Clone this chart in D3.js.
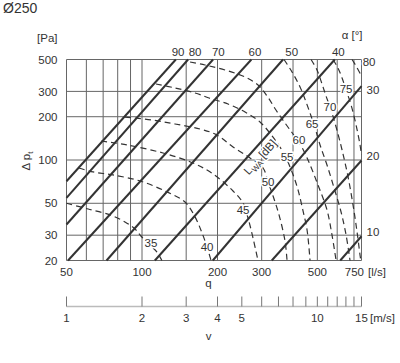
<!DOCTYPE html>
<html><head><meta charset="utf-8">
<script src="https://cdn.jsdelivr.net/npm/d3@7/dist/d3.min.js"></script>
<style>
body{margin:0;background:#fff}
text{font-family:"Liberation Sans",Arial,Helvetica,sans-serif;fill:#333}
</style>
</head><body>
<svg id="c" width="400" height="363"></svg>
<script>
// ---- data ----
const qGrid=[50,60,70,80,90,100,150,200,300,400,500,600,700,750];
const pGrid=[20,30,50,100,200,300,500];
const qTicks=[50,100,200,300,500,750];
const pTicks=[500,300,200,100,50,30,20];
const vTicks=[1,2,3,4,5,6,7,8,9,10,11,12,13,14,15];
const vLabels=[1,2,3,4,5,10,15];
const angles=[90,80,70,60,50,40,30,20,10];
const angleStart=[[136.4,500],[152.7,500],[192,500],[273,500],[365,500],[587,500],[750,326],[750,99.2],[750,29.5]];
const angleEnd=[[50,71.2],[50,54.5],[50,35.6],[50.7,20],[72.2,20],[112.5,20],[191.5,20],[329,20],[617,20]];
const angleLabelTopQ=[139.2,162.7,201.5,282,395,606];
const angleLabelRightP=[306.8,107.5,31.7];
const dbLevels=[35,40,45,50,55,60,65,70,75,80];
const db35=[[50,50],[61,45.6],[74.6,41.5],[85.5,37.1],[93.8,33.1],[99,29.6],[107.6,25.6],[114.7,22.9],[120,20]];
const db40=[[56,88],[63.8,82.6],[76.6,78.7],[98.2,71.5],[125.8,60],[148.4,51],[162.7,40.2],[173.5,31.1],[181.7,24.8],[188.5,20]];
const db45=[[68.7,135.6],[87.2,127.2],[121.3,111.9],[159.8,95.3],[191.9,80],[230.6,60.9],[252.8,50.2],[264.6,39.5],[277,28.7],[290,20]];
const db50=[[85.5,199],[109.6,189.8],[135.4,178],[170.3,164.3],[199,149.3],[230.6,123.2],[269.6,103.3],[303.8,88],[318,70.3],[333,56.2],[351.8,41.5],[371.7,27.3],[378.6,20]];
const db55=[[113.7,337.8],[135.4,316.9],[162.7,292.4],[185,269.9],[220.3,245],[257.5,215.6],[295.4,183.8],[330,146.9],[364.9,113.7],[396.4,82.6],[418.8,61.9],[438.5,44.2],[455,32.6],[467.6,20]];
const db60=[[155.4,480.4],[178.3,457.9],[214.3,422.6],[257.5,377.7],[290.1,332.4],[315.2,278.7],[342,222.7],[371.7,180.8],[400,151.6],[422.6,133.4],[459,100],[503,67],[546.5,44.9],[572,30.1],[594,20]];
const db65=[[368.3,500],[396.4,409.3],[426.6,322],[450.8,253],[472,202.3],[489.6,167],[512.6,127.2],[546.5,92.3],[583,63.9],[621.7,43.5],[651,30.1],[675,20]];
const db70=[[472,500],[498.6,422.6],[522,337.8],[541.5,278.7],[567,222.7],[594,169.7],[627.5,117.4],[663,76.2],[694,48.6],[720,31.6],[740,21.8],[745,20]];
const db75=[[577.5,500],[604.5,436],[627.5,371.8],[651,306.8],[681.6,241.4],[713.6,175.2],[740,127.2],[750,108.4]];
const db80=[[687.6,500],[713.6,450.6],[750,383.9]];
const dbCurves=[db35,db40,db45,db50,db55,db60,db65,db70,db75,db80];
const dbLabelPos=[[108.6,26.5],[181.7,24.8],[252.8,44.9],[318,70.3],[378.6,105],[422.6,137.7],[476.3,178],[561.6,233.8],[651,311.7],[803.7,480]];
const lwaPos=[295.4,105];

// ---- scales ----
const svg=d3.select("#c");
const x=d3.scaleLog().domain([50,750]).range([66.5,361.5]);
const y=d3.scaleLog().domain([20,500]).range([260.5,59.5]);
const v=d3.scaleLog().domain([1,15]).range([66.5,361.5]);
const X0=x.range()[0],X1=x.range()[1],Y0=y.range()[1],Y1=y.range()[0];

// grid
const g=svg.append("g");
g.selectAll(".vg").data(qGrid).join("line")
 .attr("x1",d=>x(d)).attr("x2",d=>x(d)).attr("y1",Y0).attr("y2",Y1)
 .attr("stroke","#666").attr("stroke-width",1);
g.selectAll(".hg").data(pGrid).join("line")
 .attr("y1",d=>y(d)).attr("y2",d=>y(d)).attr("x1",X0).attr("x2",X1)
 .attr("stroke","#666").attr("stroke-width",1);

// axes labels
const fs=11.5;
svg.append("g").selectAll("text").data(pTicks).join("text")
 .attr("x",X0-9).attr("y",d=>y(d)).attr("dy","0.36em").attr("text-anchor","end")
 .attr("font-size",fs).text(d=>d);
const last=qTicks[qTicks.length-1];
svg.append("g").selectAll("text").data(qTicks).join("text")
 .attr("x",d=>d===last?x(d)+2.5:x(d)).attr("y",276)
 .attr("text-anchor",d=>d===last?"end":"middle")
 .attr("font-size",fs).text(d=>d);
svg.append("text").attr("x",x(last)+6.5).attr("y",276).attr("font-size",fs).text("[l/s]");
svg.append("text").attr("x",x(200)-9).attr("y",287).attr("text-anchor","middle").attr("font-size",fs).text("q");
svg.append("text").attr("x",X0-9).attr("y",42).attr("text-anchor","end").attr("font-size",fs).text("[Pa]");
svg.append("text").attr("x",3).attr("y",13).attr("font-size",14).attr("fill","#444").text("Ø250");
const dl=svg.append("text").attr("transform",`translate(30,161) rotate(-90)`).attr("text-anchor","middle").attr("font-size",fs);
dl.append("tspan").text("Δ p");
dl.append("tspan").attr("font-size",8).attr("dy",3).text("t");

// v axis
const vy=306.5;
svg.append("line").attr("x1",v(1)).attr("x2",v(15)).attr("y1",vy).attr("y2",vy).attr("stroke","#bbb").attr("stroke-width",1.5);
svg.append("g").selectAll("line").data(vTicks).join("line")
 .attr("x1",d=>v(d)).attr("x2",d=>v(d)).attr("y1",vy).attr("y2",vy-10)
 .attr("stroke","#777").attr("stroke-width",1);
svg.append("g").selectAll("text").data(vLabels).join("text")
 .attr("x",d=>v(d)).attr("y",322).attr("text-anchor","middle").attr("font-size",fs).text(d=>d);
svg.append("text").attr("x",v(15)+8.5).attr("y",322).attr("font-size",fs).text("[m/s]");
svg.append("text").attr("x",v(4)-9).attr("y",340).attr("text-anchor","middle").attr("font-size",fs).text("v");

// dB curves
const line=d3.line().x(d=>x(d[0])).y(d=>y(d[1])).curve(d3.curveCatmullRom.alpha(0.5));
svg.append("g").selectAll("path").data(dbCurves).join("path")
 .attr("d",line).attr("fill","none").attr("stroke","#333").attr("stroke-width",1.2)
 .attr("stroke-dasharray","6,4");

// angle lines
svg.append("g").selectAll("line").data(angles).join("line")
 .attr("x1",(d,i)=>x(angleStart[i][0])).attr("y1",(d,i)=>y(angleStart[i][1]))
 .attr("x2",(d,i)=>x(angleEnd[i][0])).attr("y2",(d,i)=>y(angleEnd[i][1]))
 .attr("stroke","#333").attr("stroke-width",2);

// angle labels
svg.append("g").selectAll("text").data(angles.slice(0,6)).join("text")
 .attr("x",(d,i)=>x(angleLabelTopQ[i])).attr("y",Y0-4).attr("text-anchor","middle")
 .attr("font-size",fs).text(d=>d);
svg.append("g").selectAll("text").data(angles.slice(6)).join("text")
 .attr("x",X1+5).attr("y",(d,i)=>y(angleLabelRightP[i])).attr("dy","0.36em")
 .attr("font-size",fs).text(d=>d);
svg.append("text").attr("x",X1+1).attr("y",39).attr("text-anchor","end").attr("font-size",fs).text("α [°]");

// dB labels
svg.append("g").selectAll("text").data(dbLevels).join("text")
 .attr("x",(d,i)=>x(dbLabelPos[i][0])).attr("y",(d,i)=>y(dbLabelPos[i][1])).attr("dy","0.36em")
 .attr("text-anchor","middle").attr("font-size",fs)
 .attr("stroke","#fff").attr("stroke-width",3).attr("paint-order","stroke").text(d=>d);
const lw=svg.append("text").attr("transform",`translate(${x(lwaPos[0])},${y(lwaPos[1])}) rotate(-48)`)
 .attr("text-anchor","middle").attr("dy","0.36em").attr("font-size",fs)
 .attr("stroke","#fff").attr("stroke-width",3).attr("paint-order","stroke");
lw.append("tspan").text("L");
lw.append("tspan").attr("font-size",8).attr("dy",3).text("WA");
lw.append("tspan").attr("dy",-3).text(" [dB]");
</script>
</body></html>
